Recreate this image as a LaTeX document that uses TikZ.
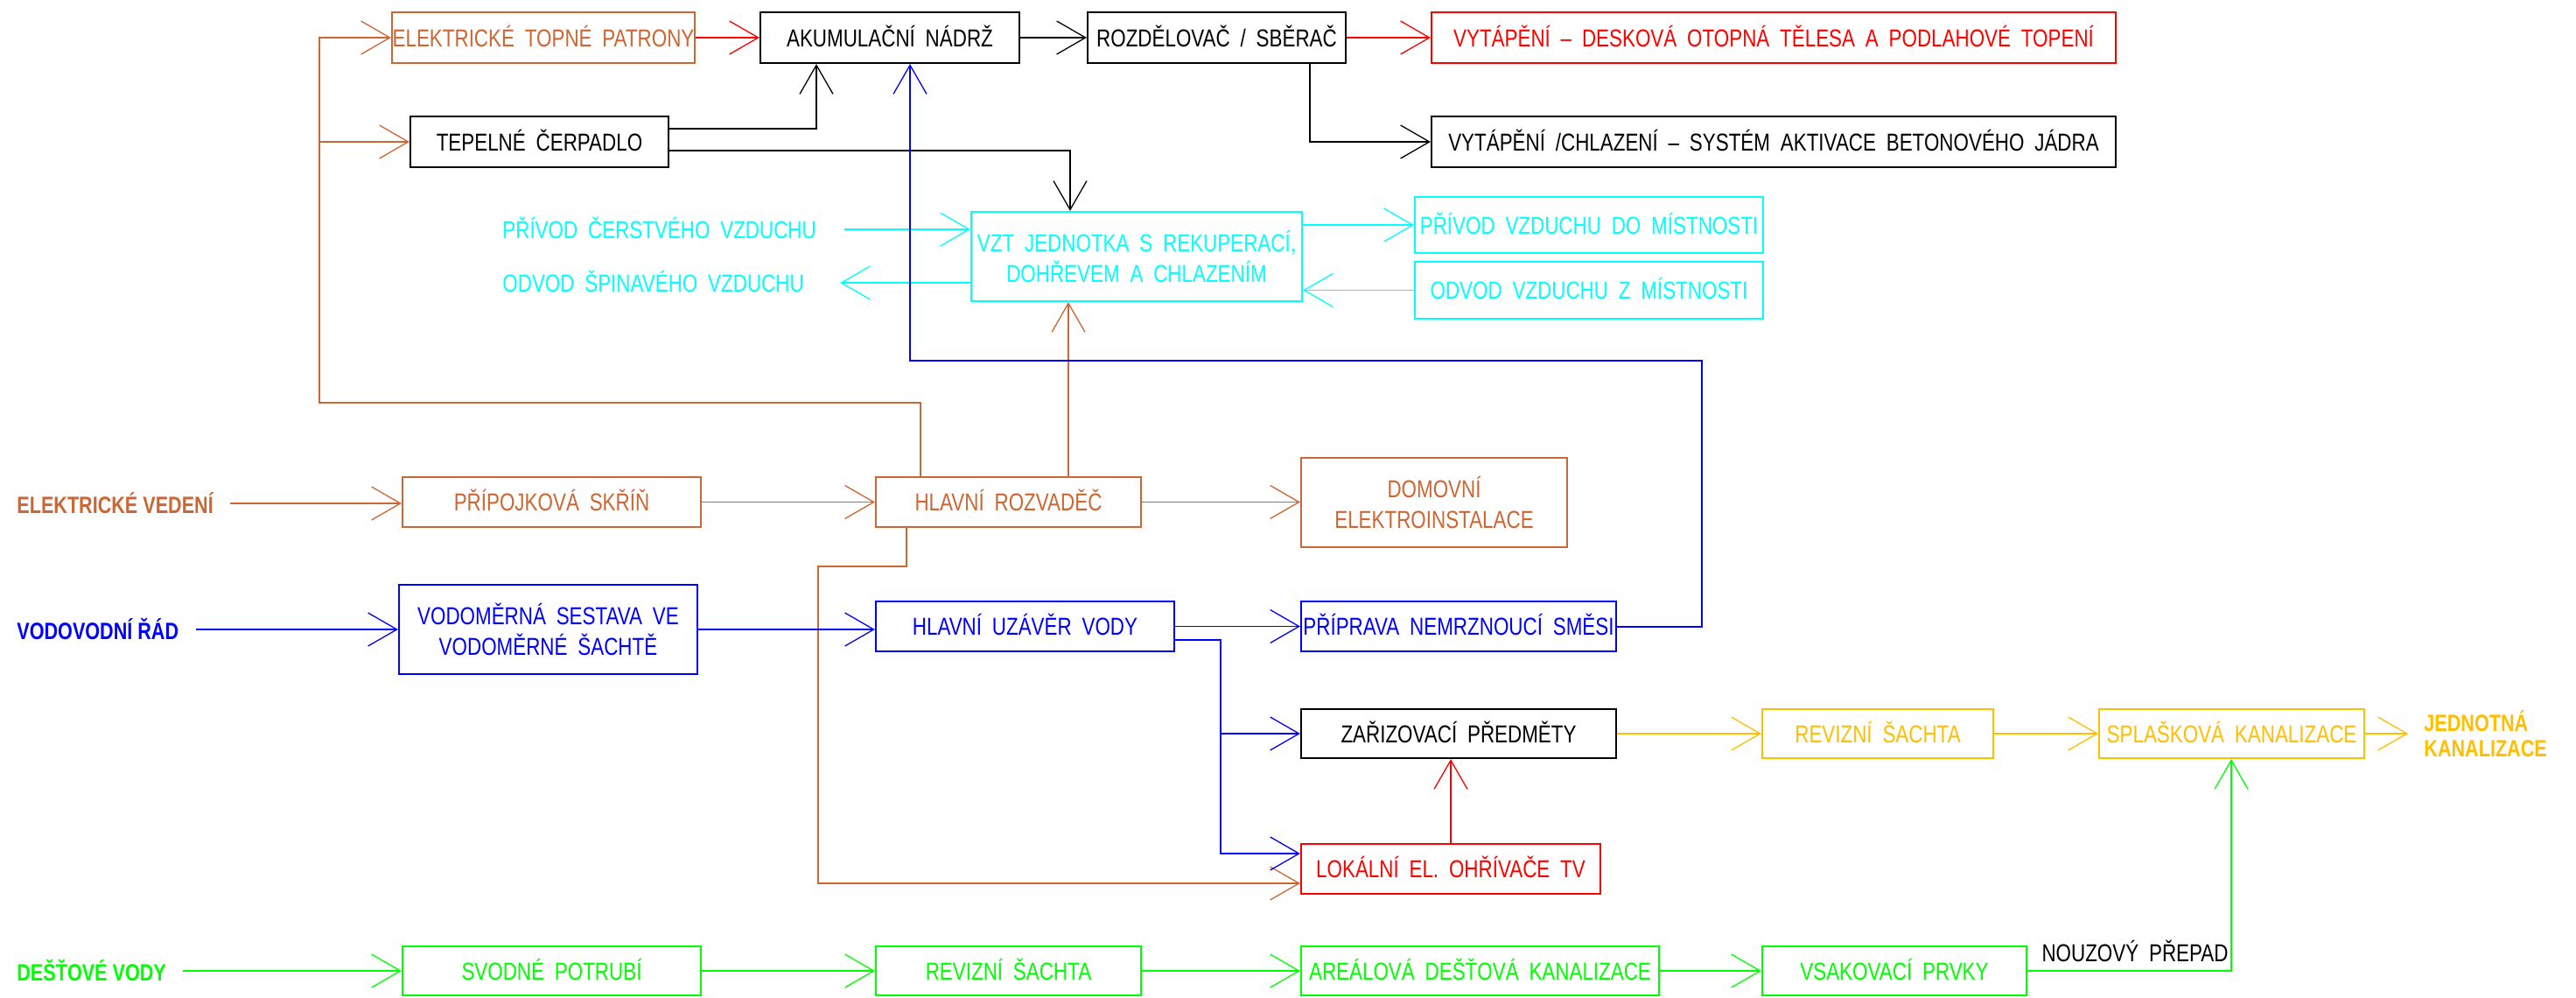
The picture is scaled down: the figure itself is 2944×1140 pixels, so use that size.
\documentclass[tikz,border=0pt]{standalone}
\usepackage{fontspec}
\setmainfont{Liberation Sans}[FakeStretch=0.8,WordSpace=1.9]
\newfontfamily\lblfont{Liberation Sans}[FakeStretch=0.8]
\usetikzlibrary{arrows.meta}
\definecolor{cor}{RGB}{204,102,51}
\definecolor{cyn}{RGB}{0,255,255}
\definecolor{yel}{RGB}{255,191,0}
\definecolor{grn}{RGB}{0,255,0}
\definecolor{blu}{RGB}{0,0,255}
\definecolor{rd}{RGB}{255,0,0}
\newcommand\boxfont{\fontsize{14}{17.5}\selectfont}
\newcommand\labfont{\lblfont\bfseries\fontsize{13.5}{14.5}\selectfont}
\begin{document}
\begin{tikzpicture}[x=0.5pt,y=-0.5pt,
 box/.style={draw=#1, text=#1, line width=1.1pt, inner sep=0pt, font=\boxfont, text height=10pt, text depth=0pt},
 mbox/.style={draw=#1, text=#1, line width=1.1pt, inner sep=0pt, font=\boxfont, align=center},
 lbl/.style={text=#1, inner sep=0pt, font=\boxfont, text height=10pt, text depth=0pt},
 blbl/.style={text=#1, inner sep=0pt, font=\labfont, align=left},
 con/.style={draw=#1, line width=0.65pt, -{Straight Barb[length=16.5pt,width=19pt]}}]
\fill[white] (0,0) rectangle (2944,1140);
\useasboundingbox (0,0) rectangle (2944,1140);

% nodes
\node[box=cor, minimum width=173pt, minimum height=29pt] (etp) at (621,43) {ELEKTRICKÉ TOPNÉ PATRONY};
\node[box=black, minimum width=148pt, minimum height=29pt] (akum) at (1017,43) {AKUMULAČNÍ NÁDRŽ};
\node[box=black, minimum width=147.5pt, minimum height=29pt] (roz) at (1390.5,43) {ROZDĚLOVAČ / SBĚRAČ};
\node[box=rd, minimum width=391pt, minimum height=29pt] (vyt) at (2027,43) {VYTÁPĚNÍ – DESKOVÁ OTOPNÁ TĚLESA A PODLAHOVÉ TOPENÍ};
\node[box=black, minimum width=147.5pt, minimum height=29pt] (tc) at (616.5,162) {TEPELNÉ ČERPADLO};
\node[box=black, minimum width=391pt, minimum height=29pt] (vch) at (2027,162) {VYTÁPĚNÍ /CHLAZENÍ – SYSTÉM AKTIVACE BETONOVÉHO JÁDRA};
\node[mbox=cyn, minimum width=189pt, minimum height=51pt] (vzt) at (1299,293) {VZT JEDNOTKA S REKUPERACÍ,\\DOHŘEVEM A CHLAZENÍM};
\node[box=cyn, minimum width=199pt, minimum height=32pt] (pvm) at (1816,257) {PŘÍVOD VZDUCHU DO MÍSTNOSTI};
\node[box=cyn, minimum width=199pt, minimum height=32.5pt] (ovm) at (1816,331.5) {ODVOD VZDUCHU Z MÍSTNOSTI};
\node[lbl=cyn, anchor=west] (pcv) at (574,262) {PŘÍVOD ČERSTVÉHO VZDUCHU};
\node[lbl=cyn, anchor=west] (osv) at (574,323) {ODVOD ŠPINAVÉHO VZDUCHU};

\node[blbl=cor, anchor=west] (ev) at (19,575) {ELEKTRICKÉ VEDENÍ};
\node[box=cor, minimum width=170.5pt, minimum height=28.5pt] (ps) at (630.5,573.5) {PŘÍPOJKOVÁ SKŘÍŇ};
\node[box=cor, minimum width=151.5pt, minimum height=28.5pt] (hr) at (1152.5,573.5) {HLAVNÍ ROZVADĚČ};
\node[mbox=cor, minimum width=152pt, minimum height=51pt] (dom) at (1639,574) {DOMOVNÍ\\ELEKTROINSTALACE};

\node[blbl=blu, anchor=west] (vr) at (19,719) {VODOVODNÍ ŘÁD};
\node[mbox=blu, minimum width=170.5pt, minimum height=51pt] (vs) at (626.5,719) {VODOMĚRNÁ SESTAVA VE\\VODOMĚRNÉ ŠACHTĚ};
\node[box=blu, minimum width=170.5pt, minimum height=28.5pt] (huv) at (1171.5,715.5) {HLAVNÍ UZÁVĚR VODY};
\node[box=blu, minimum width=180pt, minimum height=28.5pt] (pns) at (1667,715.5) {PŘÍPRAVA NEMRZNOUCÍ SMĚSI};
\node[box=black, minimum width=180pt, minimum height=28pt] (zp) at (1667,838) {ZAŘIZOVACÍ PŘEDMĚTY};
\node[box=rd, minimum width=171pt, minimum height=28.5pt] (lo) at (1658,992.5) {LOKÁLNÍ EL. OHŘÍVAČE TV};
\node[box=yel, minimum width=132pt, minimum height=28pt] (rsy) at (2146,838) {REVIZNÍ ŠACHTA};
\node[box=yel, minimum width=151.5pt, minimum height=28pt] (spl) at (2550.5,838) {SPLAŠKOVÁ KANALIZACE};
\node[blbl=yel, anchor=west] (jk) at (2770,838) {JEDNOTNÁ\\KANALIZACE};

\node[blbl=grn, anchor=west] (dv) at (19,1109) {DEŠŤOVÉ VODY};
\node[box=grn, minimum width=170.5pt, minimum height=28pt] (sp) at (630.5,1109) {SVODNÉ POTRUBÍ};
\node[box=grn, minimum width=151.5pt, minimum height=28pt] (rsg) at (1152.5,1109) {REVIZNÍ ŠACHTA};
\node[box=grn, minimum width=204.5pt, minimum height=28pt] (ar) at (1691.5,1109) {AREÁLOVÁ DEŠŤOVÁ KANALIZACE};
\node[box=grn, minimum width=151pt, minimum height=28pt] (vp) at (2165,1109) {VSAKOVACÍ PRVKY};
\node[lbl=black] (np) at (2440,1088) {NOUZOVÝ PŘEPAD};

% helper coordinates
\coordinate (oA) at (1052,460);
\coordinate (oB) at (365,460);
\coordinate (oC) at (1036,647);
\coordinate (oD) at (935,647);
\coordinate (oE) at (935,1009);
\coordinate (oF) at (1221,0);
\coordinate (k1) at (933,147);
\coordinate (k2) at (1223,172);
\coordinate (k3) at (1497,162);
\coordinate (b1) at (1945,716);
\coordinate (b2) at (1945,412);
\coordinate (b3) at (1040,412);
\coordinate (b4) at (1395,731);
\coordinate (b5) at (1395,975);
\coordinate (g1) at (2550,1109);

% orange
\draw[con=cor, shorten <=9.5pt] (ev.east) -- (ev.east -| ps.west);
\draw[con=cor] (ps.east) -- (hr.west);
\draw[con=cor] (hr.east) -- (hr.east -| dom.west);
\draw[con=cor] (hr.north -| oF) -- (vzt.south -| oF);
\draw[con=cor] (hr.north -| oA) -- (oA) -- (oB) |- (etp.west);
\draw[con=cor] (oB |- tc.west) -- (tc.west);
\draw[con=cor] (hr.south -| oC) -- (oC) -- (oD) -- (oE) -- (oE -| lo.west);

% black
\draw[con=black] (tc.east |- k1) -- (k1) -- (akum.south -| k1);
\draw[con=black] (tc.east |- k2) -- (k2) -- (vzt.north -| k2);
\draw[con=black] (akum.east) -- (roz.west);
\draw[con=black] (roz.south -| k3) -- (k3) -- (vch.west);

% red
\draw[con=rd] (etp.east) -- (akum.west);
\draw[con=rd] (roz.east) -- (vyt.west);
\draw[con=rd] (lo.north) -- (lo.north |- zp.south);

% cyan
\draw[con=cyn, shorten <=16pt] (pcv.east) -- (pcv.east -| vzt.west);
\draw[con=cyn, shorten >=20.5pt] (vzt.west |- osv.east) -- (osv.east);
\draw[con=cyn] (vzt.east |- pvm.west) -- (pvm.west);
\draw[con=cyn] (ovm.west) -- (ovm.west -| vzt.east);

% blue
\draw[con=blu, shorten <=9.5pt] (vr.east) -- (vr.east -| vs.west);
\draw[con=blu] (vs.east) -- (vs.east -| huv.west);
\draw[con=blu] (huv.east) -- (pns.west);
\draw[con=blu] (huv.east |- b4) -- (b4) -- (b5) -- (b5 -| lo.west);
\draw[con=blu] (b4 |- zp.west) -- (zp.west);
\draw[con=blu] (pns.east |- b1) -- (b1) -- (b2) -- (b3) -- (akum.south -| b3);

% yellow
\draw[con=yel] (zp.east) -- (rsy.west);
\draw[con=yel] (rsy.east) -- (spl.west);
\draw[con=yel, shorten >=9pt] (spl.east) -- (spl.east -| jk.west);

% green
\draw[con=grn, shorten <=9.5pt] (dv.east) -- (dv.east -| sp.west);
\draw[con=grn] (sp.east) -- (rsg.west);
\draw[con=grn] (rsg.east) -- (ar.west);
\draw[con=grn] (ar.east) -- (vp.west);
\draw[con=grn] (vp.east) -- (g1) -- (g1 |- spl.south);
\end{tikzpicture}
\end{document}
